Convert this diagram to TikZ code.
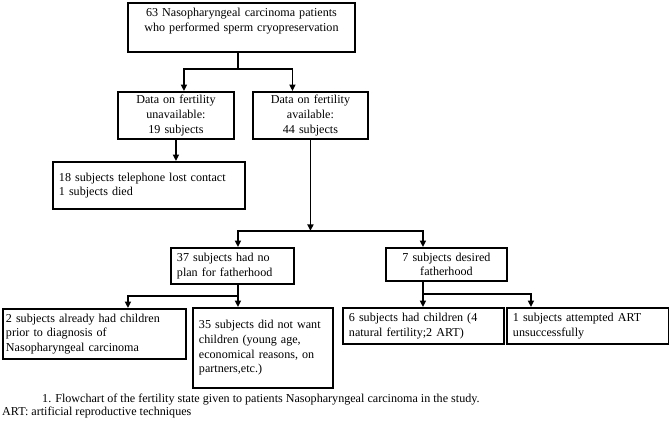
\documentclass[tikz,border=0pt]{standalone}
\usepackage{fontspec}
\setmainfont{Liberation Serif}
\usepackage{tikz}
\usetikzlibrary{arrows.meta,calc}

\begin{document}
\begin{tikzpicture}[x=1pt,y=-1pt,
    every node/.style={font=\fontsize{12.1}{14.6}\selectfont},
    box/.style={draw,line width=1.9pt,anchor=north west,inner xsep=6pt,inner ysep=3pt},
    link/.style={line width=1.7pt},
    arr/.style={line width=1.7pt,-{Triangle[length=6.5pt,width=6pt]}}]
    \useasboundingbox (0,0) rectangle (669,421);
    \node[box,text width=215pt,align=center,minimum height=49pt,text height=9pt,text depth=30.4pt,inner ysep=4.8pt] (top) at (127,2) {63 Nasopharyngeal carcinoma patients\\who performed sperm cryopreservation};
    \node[box,text width=104pt,align=center,minimum height=47pt] (unav) at (117,91) {Data on fertility\\unavailable:\\19 subjects};
    \node[box,text width=103pt,align=center,minimum height=47pt] (avail) at (252,91) {Data on fertility\\available:\\44 subjects};
    \node[box,text width=180pt,align=left,minimum height=47pt] (lost) at (52,161) {18 subjects telephone lost contact\\1 subjects died};
    \node[box,text width=111pt,align=left,minimum height=36pt] (nofather) at (170,247) {37 subjects had no\\plan for fatherhood};
    \node[box,text width=109pt,align=center,minimum height=33pt] (desired) at (385,247) {7 subjects desired\\fatherhood};
    \node[box,text width=177pt,inner xsep=3pt,align=left,minimum height=50pt] (already) at (2,308) {2 subjects already had children\\prior to diagnosis of\\Nasopharyngeal carcinoma};
    \node[box,text width=128pt,align=left,minimum height=80pt] (notwant) at (192,307) {35 subjects did not want\\children (young age,\\economical reasons, on\\partners,etc.)};
    \node[box,text width=149pt,align=left,minimum height=36pt] (children) at (342,307) {6 subjects had children (4\\natural fertility;2 ART)};
    \node[box,text width=150pt,align=left,minimum height=36pt] (attempted) at (506,307) {1 subjects attempted ART\\unsuccessfully};
    \draw[link] ([xshift=-3.5pt]top.south) -- ++(0,16) coordinate (fork1);
    \draw[arr] (fork1) -| ([xshift=8pt]unav.north);
    \draw[arr] (fork1) -| ([xshift=-18pt]avail.north);
    \draw[arr] (unav.south) -- (unav.south |- lost.north);
    \draw[arr] (avail.south) -- ++(0,91) coordinate (fork2);
    \draw[arr] (fork2) -| ([xshift=5.5pt]nofather.north);
    \draw[arr] (fork2) -| ([xshift=-23.5pt]desired.north);
    \draw[link] ([xshift=5.5pt]nofather.south) -- ++(0,11) coordinate (fork3);
    \draw[arr] (fork3) -| ([xshift=33.5pt]already.north);
    \draw[arr] (fork3) -- (fork3 |- notwant.north);
    \draw[link] ([xshift=-23.5pt]desired.south) -- ++(0,12) coordinate (fork4);
    \draw[arr] (fork4) -- (fork4 |- children.north);
    \draw[arr] (fork4) -| ([xshift=-57pt]attempted.north);
    \node[anchor=west,inner sep=0pt] (capline) at (42,400) {1. Flowchart of the fertility state given to patients Nasopharyngeal carcinoma in the study.};
    \node[anchor=west,inner sep=0pt] (artline) at (2,413) {ART: artificial reproductive techniques};
  \end{tikzpicture}
\end{document}
